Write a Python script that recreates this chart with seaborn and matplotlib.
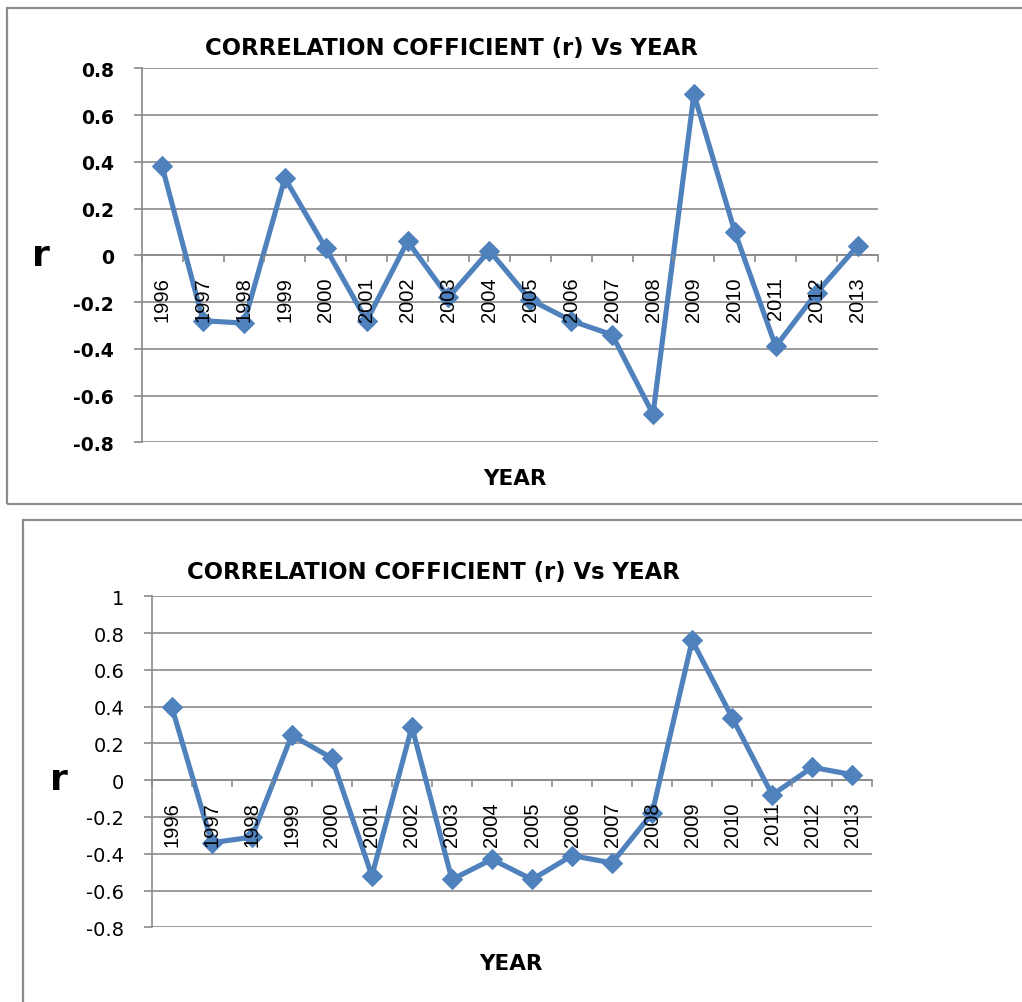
import matplotlib
matplotlib.use('Agg')
import matplotlib.pyplot as plt
import seaborn as sns
import pandas as pd
import numpy as np
from matplotlib.patches import Rectangle
from matplotlib.ticker import FixedLocator, MultipleLocator, FuncFormatter

# ---- data ----
years = ['1996', '1997', '1998', '1999', '2000', '2001', '2002', '2003', '2004',
         '2005', '2006', '2007', '2008', '2009', '2010', '2011', '2012', '2013']
r_top = [0.38, -0.28, -0.29, 0.33, 0.03, -0.28, 0.06, -0.18, 0.02,
         -0.19, -0.28, -0.34, -0.68, 0.69, 0.10, -0.39, -0.16, 0.04]
r_bottom = [0.40, -0.34, -0.31, 0.245, 0.12, -0.52, 0.29, -0.54, -0.43,
            -0.54, -0.41, -0.45, -0.18, 0.76, 0.34, -0.08, 0.07, 0.03]
title_text = 'CORRELATION COFFICIENT (r) Vs YEAR'
x_label = 'YEAR'
y_label = 'r'

sns.set_theme(style='white')
plt.rcParams['font.family'] = ['DejaVu Sans']
plt.rcParams['axes.unicode_minus'] = False

W, H = 1022, 1003
fig = plt.figure(figsize=(W / 100, H / 100), dpi=100)
fig.patch.set_facecolor('white')


def fx(x):
    return x / W


def fy(y):
    return 1 - y / H


GRID = '#8a8a8a'
LINE = '#4F81BD'


def fmt(v, pos):
    v = round(v, 1)
    if abs(v) < 1e-9:
        return '0'
    return f'{v:g}'


def draw(rect, vals, ymin, ymax, tick_bold, tick_size):
    left, top, right, bottom = rect
    ax = fig.add_axes([fx(left), fy(bottom), (right - left) / W, (bottom - top) / H])
    df = pd.DataFrame({'YEAR': years, 'r': vals})
    sns.lineplot(data=df, x='YEAR', y='r', ax=ax, sort=False, color=LINE,
                 linewidth=3.7, marker='D', markersize=10,
                 markeredgecolor=LINE, markerfacecolor=LINE, zorder=3)
    ax.set_xlim(-0.5, len(years) - 0.5)
    ax.set_ylim(ymin, ymax)
    ax.yaxis.set_major_locator(MultipleLocator(0.2))
    ax.yaxis.set_major_formatter(FuncFormatter(fmt))
    ax.grid(axis='y', color=GRID, lw=1.2)
    ax.grid(axis='x', visible=False)
    ax.set_axisbelow(True)
    ax.xaxis.set_zorder(4)
    ax.set_facecolor('white')
    for s in ['top', 'right']:
        ax.spines[s].set_visible(False)
    ax.spines['bottom'].set_position(('data', 0))
    for s in ['bottom', 'left']:
        ax.spines[s].set_color(GRID)
        ax.spines[s].set_linewidth(1.2)
    ax.xaxis.set_minor_locator(FixedLocator(np.arange(-0.5, len(years), 1.0)))
    ax.tick_params(axis='x', which='major', length=0, pad=15, labelrotation=90,
                   labelsize=14.5, labelcolor='black', bottom=True)
    ax.tick_params(axis='x', which='minor', length=5.2, color=GRID, width=1.2,
                   direction='out', bottom=True)
    ax.tick_params(axis='y', which='major', length=5.8, color=GRID, width=1.2,
                   direction='out', pad=14, labelsize=tick_size, labelcolor='black',
                   left=True)
    for lbl in ax.get_xticklabels():
        lbl.set_fontfamily(['Liberation Sans', 'DejaVu Sans'])
    for lbl in ax.get_yticklabels():
        lbl.set_fontweight('bold' if tick_bold else 'normal')
    ax.set_xlabel('')
    ax.set_ylabel('')
    return ax


# top chart
draw((141.7, 69.3, 878.0, 443.3), r_top, -0.8, 0.8, True, 13.5)
fig.add_artist(Rectangle((fx(7), fy(505)), (1040 - 7) / W, (505 - 9) / H,
                         transform=fig.transFigure, fill=False,
                         edgecolor='#8c8c8c', lw=1.6))
fig.text(fx(451), fy(55), title_text, ha='center', va='baseline',
         fontsize=16.4, fontweight='bold', color='black')
fig.text(fx(41), fy(265.7), y_label, ha='center', va='baseline',
         fontsize=26, fontweight='bold', color='black')
fig.text(fx(515), fy(485), x_label, ha='center', va='baseline',
         fontsize=15.5, fontweight='bold', color='black')

# bottom chart
draw((151.7, 597.3, 872.3, 928.3), r_bottom, -0.8, 1.0, False, 14)
fig.add_artist(Rectangle((fx(23), fy(1020)), (1040 - 23) / W, (1020 - 521) / H,
                         transform=fig.transFigure, fill=False,
                         edgecolor='#8c8c8c', lw=1.6))
fig.text(fx(433), fy(579.3), title_text, ha='center', va='baseline',
         fontsize=16.4, fontweight='bold', color='black')
fig.text(fx(59), fy(790), y_label, ha='center', va='baseline',
         fontsize=26, fontweight='bold', color='black')
fig.text(fx(511), fy(970), x_label, ha='center', va='baseline',
         fontsize=15.5, fontweight='bold', color='black')

fig.savefig('out.png', dpi=100, facecolor='white')
